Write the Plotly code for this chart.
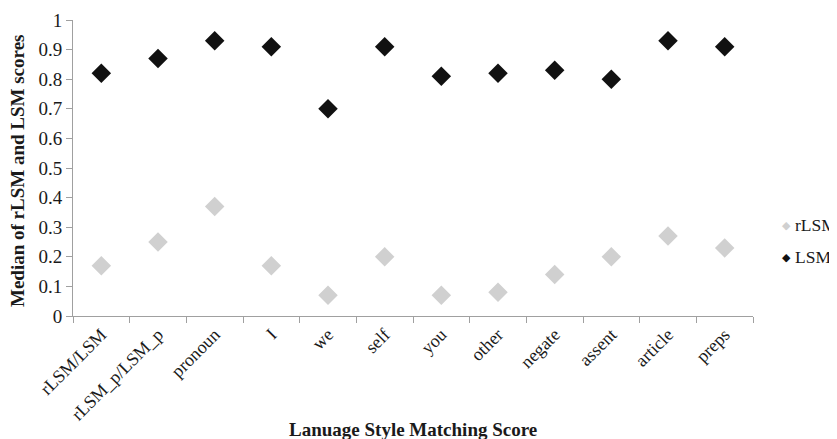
import plotly.graph_objects as go

categories = ["rLSM/LSM", "rLSM_p/LSM_p", "pronoun", "I", "we", "self",
              "you", "other", "negate", "assent", "article", "preps"]
rlsm = [0.17, 0.25, 0.37, 0.17, 0.07, 0.20, 0.07, 0.08, 0.14, 0.20, 0.27, 0.23]
lsm = [0.82, 0.87, 0.93, 0.91, 0.70, 0.91, 0.81, 0.82, 0.83, 0.80, 0.93, 0.91]
series_names = ["rLSM", "LSM"]
series_colors = ["#d0d0d0", "#111111"]

FONT = "Liberation Serif, Times New Roman, serif"
TXT = "#1a1a1a"
AX = "#a0a0a0"

fig = go.Figure()
for name, vals, col in zip(series_names, [rlsm, lsm], series_colors):
    fig.add_trace(go.Scatter(x=categories, y=vals, mode="markers", name=name,
                             marker=dict(symbol="diamond", size=15, color=col,
                                         line=dict(width=0))))

# legend drawn as annotations (marker glyph close to text, as in reference)
legend_y = [0.307, 0.199]
for name, col, ly in zip(series_names, series_colors, legend_y):
    fig.add_annotation(xref="paper", yref="paper", x=1.0495, y=ly,
                       text="◆", showarrow=False, xanchor="center", yanchor="middle",
                       font=dict(family="DejaVu Sans", size=11, color=col))
    fig.add_annotation(xref="paper", yref="paper", x=1.0595, y=ly,
                       text=name, showarrow=False, xanchor="left", yanchor="middle",
                       font=dict(family=FONT, size=17.5, color=TXT))

fig.add_annotation(xref="paper", yref="paper", x=0.5, y=-0.385,
                   text="<b>Lanuage Style Matching Score</b>", showarrow=False,
                   xanchor="center", yanchor="middle",
                   font=dict(family=FONT, size=19, color=TXT))
fig.add_annotation(xref="paper", yref="paper", x=-0.0824, y=0.493,
                   text="<b>Median of rLSM and LSM scores</b>", showarrow=False,
                   textangle=-90, xanchor="center", yanchor="middle",
                   font=dict(family=FONT, size=19, color=TXT))

# page has an 8px body margin, so the figure is 8px smaller and margins shifted
fig.update_layout(
    width=829, height=431,
    margin=dict(l=65, r=84, t=12, b=123),
    paper_bgcolor="white", plot_bgcolor="white",
    font=dict(family=FONT, size=19, color=TXT),
    showlegend=False,
    xaxis=dict(
        type="category", showgrid=False, showline=True, linecolor=AX,
        linewidth=1, ticks="outside", ticklen=6, tickcolor=AX,
        tickson="boundaries", tickangle=-45, automargin=False,
        tickfont=dict(family=FONT, size=18, color=TXT),
        range=[-0.5, 11.5], zeroline=False,
    ),
    yaxis=dict(
        range=[0, 1], dtick=0.1, showgrid=False, showline=True,
        linecolor=AX, linewidth=1, ticks="outside", ticklen=6,
        tickcolor=AX, zeroline=False, automargin=False,
        tickfont=dict(family=FONT, size=19, color=TXT),
    ),
)

fig.write_html("out.html")
